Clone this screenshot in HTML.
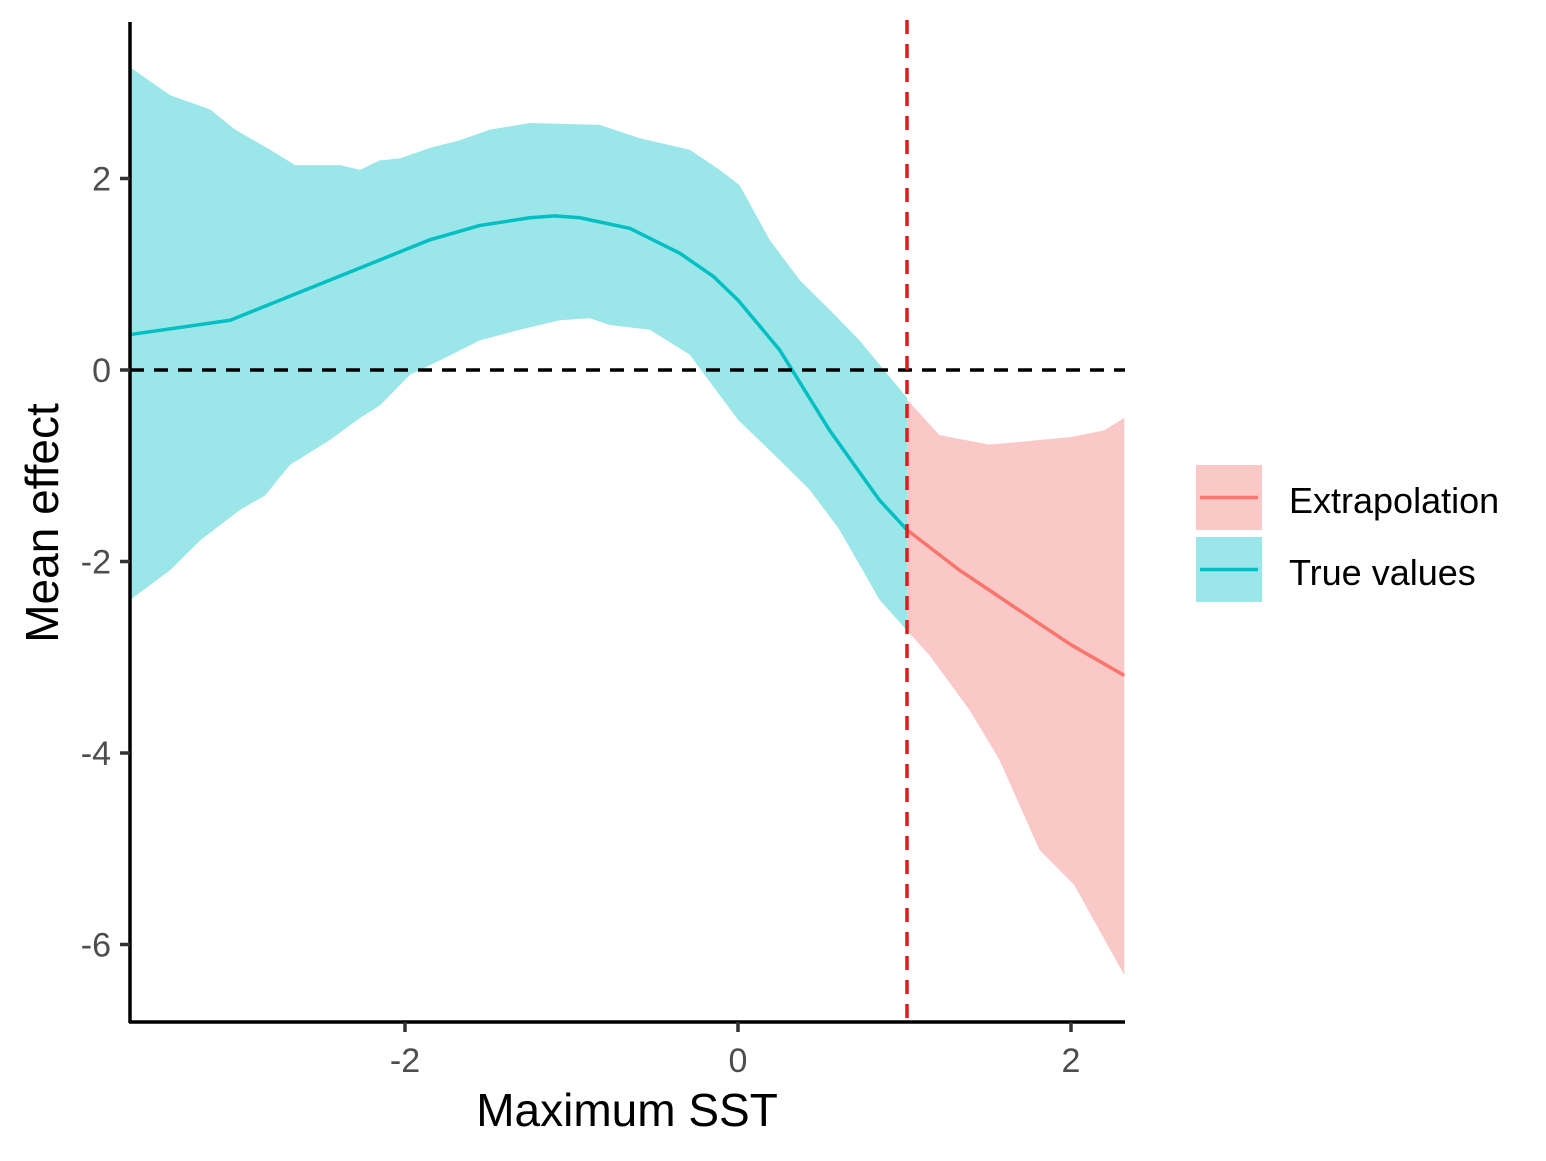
<!DOCTYPE html>
<html><head><meta charset="utf-8"><style>
body{margin:0;background:#fff}
svg text{font-family:"Liberation Sans",Arial,sans-serif}
</style></head><body>
<svg id="chart" width="1546" height="1156" viewBox="0 0 1546 1156" xmlns="http://www.w3.org/2000/svg">
<g id="plot"></g>
<g id="axes"></g>
<g id="legend">
 <rect x="1196" y="465" width="66" height="65" fill="#FAC8C6"/>
 <line x1="1200" y1="497.5" x2="1258" y2="497.5" stroke="#F8766D" stroke-width="3.5"/>
 <text x="1289" y="513" font-size="36" fill="#000">Extrapolation</text>
 <rect x="1196" y="537" width="66" height="65" fill="#9BE6E8"/>
 <line x1="1200" y1="569.5" x2="1258" y2="569.5" stroke="#00BFC4" stroke-width="3.5"/>
 <text x="1289" y="585" font-size="36" fill="#000">True values</text>
</g>
</svg>
<script>
const xTicks=[-2,0,2];
const yTicks=[2,0,-2,-4,-6];
const threshold=1.015;
const trueUpX=[-3.65,-3.41,-3.17,-3.02,-2.81,-2.66,-2.39,-2.27,-2.15,-2.03,-1.85,-1.67,-1.49,-1.25,-0.83,-0.59,-0.29,-0.11,0.01,0.19,0.37,0.55,0.73,1.015];
const trueUpY=[3.16,2.87,2.72,2.51,2.30,2.14,2.14,2.09,2.19,2.21,2.32,2.40,2.51,2.58,2.56,2.42,2.30,2.09,1.93,1.36,0.94,0.63,0.31,-0.29];
const trueLoX=[-3.65,-3.41,-3.23,-2.99,-2.84,-2.69,-2.45,-2.27,-2.15,-1.97,-1.79,-1.55,-1.31,-1.07,-0.89,-0.77,-0.53,-0.29,0,0.25,0.43,0.61,0.85,1.015];
const trueLoY=[-2.40,-2.09,-1.78,-1.46,-1.31,-0.99,-0.73,-0.50,-0.37,-0.05,0.10,0.31,0.42,0.52,0.54,0.47,0.42,0.16,-0.52,-0.94,-1.25,-1.67,-2.40,-2.72];
const trueMeanX=[-3.65,-3.05,-2.45,-1.85,-1.55,-1.25,-1.1,-0.95,-0.65,-0.35,-0.15,0,0.25,0.55,0.85,1.015];
const trueMeanY=[0.37,0.52,0.94,1.36,1.51,1.59,1.61,1.59,1.48,1.22,0.98,0.73,0.21,-0.63,-1.36,-1.67];
const extUpX=[1.015,1.21,1.51,2.0,2.2,2.32];
const extUpY=[-0.31,-0.68,-0.78,-0.70,-0.63,-0.50];
const extLoX=[1.015,1.15,1.39,1.57,1.81,2.02,2.32];
const extLoY=[-2.72,-2.98,-3.55,-4.07,-5.01,-5.38,-6.32];
const extMeanX=[1.015,1.33,1.69,2.0,2.32];
const extMeanY=[-1.67,-2.09,-2.51,-2.87,-3.19];

const X=v=>738+166.5*v, Y=v=>370-95.75*v;
const NS="http://www.w3.org/2000/svg";
function mk(tag,attrs,parent){const e=document.createElementNS(NS,tag);for(const k in attrs)e.setAttribute(k,attrs[k]);parent.appendChild(e);return e;}
const plot=document.getElementById('plot'), axes=document.getElementById('axes');
function band(ux,uy,lx,ly){let p=ux.map((x,i)=>X(x)+','+Y(uy[i]));for(let i=lx.length-1;i>=0;i--)p.push(X(lx[i])+','+Y(ly[i]));return p.join(' ');}
function line(xs,ys){return xs.map((x,i)=>X(x)+','+Y(ys[i])).join(' ');}
let e;
e=mk('polygon',{points:band(trueUpX,trueUpY,trueLoX,trueLoY),fill:'#9BE6E8'},plot);


e=mk('polygon',{points:band(extUpX,extUpY,extLoX,extLoY),fill:'#FAC8C6'},plot);


e=mk('polyline',{points:line(trueMeanX,trueMeanY),fill:'none',stroke:'#00BFC4','stroke-width':3.5,'stroke-linejoin':'round'},plot);


e=mk('polyline',{points:line(extMeanX,extMeanY),fill:'none',stroke:'#F8766D','stroke-width':3.5,'stroke-linejoin':'round'},plot);


e=mk('line',{x1:130,x2:1125,y1:Y(0),y2:Y(0),stroke:'#000','stroke-width':3.5,'stroke-dasharray':'14,10'},plot);


e=mk('line',{x1:X(threshold),x2:X(threshold),y1:20,y2:1022,stroke:'#E31A1C','stroke-width':3.5,'stroke-dasharray':'14,10'},plot);


e=mk('line',{x1:130,x2:130,y1:22,y2:1023,stroke:'#000','stroke-width':3.5},axes);


e=mk('line',{x1:129,x2:1125,y1:1022,y2:1022,stroke:'#000','stroke-width':3.5},axes);


xTicks.forEach(t=>{
 let l=mk('line',{x1:X(t),x2:X(t),y1:1022,y2:1032,stroke:'#333','stroke-width':3.5},axes);
 
 
 let tx=mk('text',{x:X(t),y:1072,'font-size':34,fill:'#4d4d4d','text-anchor':'middle'},axes);tx.textContent=t;
 
 
});
yTicks.forEach(t=>{
 let l=mk('line',{x1:120,x2:130,y1:Y(t),y2:Y(t),stroke:'#333','stroke-width':3.5},axes);
 
 
 let tx=mk('text',{x:111,y:Y(t)+12,'font-size':34,fill:'#4d4d4d','text-anchor':'end'},axes);tx.textContent=t;
 
 
});
e=mk('text',{x:627,y:1126,'font-size':46,fill:'#000','text-anchor':'middle'},axes);e.textContent='Maximum SST';


e=mk('text',{x:0,y:0,'font-size':46,fill:'#000','text-anchor':'middle',transform:'translate(58,523) rotate(-90)'},axes);e.textContent='Mean effect';


</script>
</body></html>
